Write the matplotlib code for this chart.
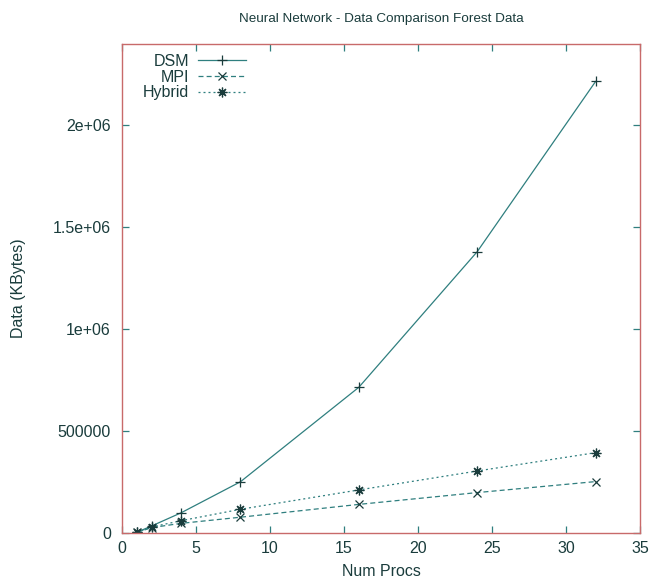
import matplotlib
matplotlib.use("Agg")
import matplotlib.pyplot as plt
from matplotlib.ticker import FixedLocator, FixedFormatter

plt.rcParams['font.family'] = ['Liberation Sans', 'DejaVu Sans']

# data
procs = [1, 2, 4, 8, 16, 24, 32]
dsm = [2000, 33000, 98000, 250000, 714000, 1380000, 2216000]
mpi = [1000, 25000, 46000, 76000, 139000, 197000, 251000]
hybrid = [1500, 28000, 59000, 115000, 210000, 303000, 393000]

x_ticks = [0, 5, 10, 15, 20, 25, 30, 35]
y_ticks = [0, 500000, 1000000, 1500000, 2000000]
y_tick_labels = ["0", "500000", "1e+06", "1.5e+06", "2e+06"]

line_col = "#2f7f7f"
text_col = "#1a3c3c"
frame_col = "#c86a6a"

fig = plt.figure(figsize=(6.53, 5.8), dpi=100)
ax = fig.add_axes([122 / 653, 1 - 532.7 / 580, 518 / 653, 488.7 / 580])

asterisk = (8, 2, 0)
ax.plot(procs, dsm, color=line_col, lw=0.9, marker="+", ms=7,
        mec=text_col, mew=0.9, label="DSM")
ax.plot(procs, mpi, color=line_col, lw=0.9, dashes=(4, 2.5), marker="x",
        ms=6, mec=text_col, mew=0.9, label="MPI")
ax.plot(procs, hybrid, color=line_col, lw=0.9, dashes=(1.6, 2.4),
        marker=asterisk, ms=7, mec=text_col, mew=0.9, label="Hybrid")

ax.set_xlim(0, 35)
ax.set_ylim(0, 2400000)
ax.xaxis.set_major_locator(FixedLocator(x_ticks))
ax.yaxis.set_major_locator(FixedLocator(y_ticks))
ax.yaxis.set_major_formatter(FixedFormatter(y_tick_labels))

ax.tick_params(direction="in", length=5, width=0.9, color=line_col,
               top=True, right=True, labelsize=11.5, labelcolor=text_col)
ax.tick_params(axis="y", pad=8)
ax.tick_params(axis="x", pad=6)
for s in ax.spines.values():
    s.set_color(frame_col)
    s.set_linewidth(1.0)

ax.set_xlabel("Num Procs", fontsize=11.5, color=text_col, labelpad=6)
ax.set_ylabel("Data (KBytes)", fontsize=11.5, color=text_col, labelpad=19)
ax.set_title("Neural Network - Data Comparison Forest Data", fontsize=9.7,
             color=text_col, pad=16)

leg = ax.legend(loc="upper left", bbox_to_anchor=(0.04, 0.98),
                frameon=False, markerfirst=False, fontsize=11.5,
                handlelength=3, handletextpad=0.55, labelspacing=0.05,
                borderpad=0, borderaxespad=0)
for t in leg.get_texts():
    t.set_color(text_col)

fig.savefig("out.png", dpi=100)
